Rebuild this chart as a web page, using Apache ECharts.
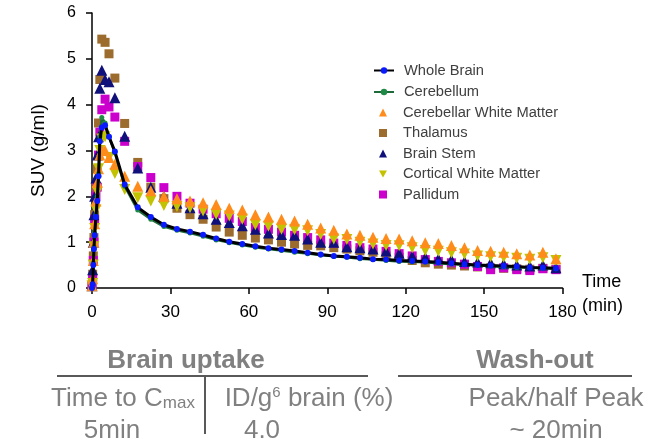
<!DOCTYPE html>
<html>
<head>
<meta charset="utf-8">
<title>SUV time-activity curves</title>
<script src="https://cdn.jsdelivr.net/npm/echarts@6/dist/echarts.min.js"></script>
<style>
  html, body { margin: 0; padding: 0; background: #fff; }
  #chart { width: 656px; height: 444px; }
</style>
</head>
<body>
<div id="chart"></div>
<script>
// frame mid-times (min)
var times = [0, 0.25, 0.5, 0.75, 1, 1.5, 2, 2.5, 3, 3.75, 5, 6.5, 8.75, 12.5, 17.5,
  22.5, 27.5, 32.5, 37.5, 42.5, 47.5, 52.5, 57.5, 62.5, 67.5, 72.5, 77.5, 82.5, 87.5, 92.5, 97.5,
  102.5, 107.5, 112.5, 117.5, 122.5, 127.5, 132.5, 137.5, 142.5, 147.5, 152.5, 157.5, 162.5, 167.5, 172.5, 177.5];

var wholeBrain = [0, 0.08, 0.5, 0.85, 1.15, 1.55, 1.9, 2.44, 3.2, 3.5, 3.55, 3.3, 2.98, 2.26, 1.76,
  1.55, 1.38, 1.29, 1.23, 1.16, 1.08, 1.01, 0.96, 0.91, 0.87, 0.84, 0.81, 0.77, 0.73, 0.70, 0.68,
  0.66, 0.63, 0.62, 0.60, 0.59, 0.58, 0.56, 0.54, 0.52, 0.50, 0.49, 0.48, 0.47, 0.45, 0.44, 0.43];

var cerebellum = [0, 0.1, 0.55, 0.9, 1.2, 1.6, 2.0, 2.5, 3.3, 3.72, 3.6, 3.3, 2.95, 2.22, 1.7,
  1.5, 1.34, 1.26, 1.2, 1.13, 1.05, 0.99, 0.94, 0.89, 0.85, 0.82, 0.78, 0.75, 0.72, 0.69, 0.67,
  0.64, 0.62, 0.6, 0.58, 0.57, 0.56, 0.54, 0.52, 0.51, 0.49, 0.48, 0.46, 0.45, 0.44, 0.43, 0.42];

var cerebWM = [0.05, 0.2, 0.6, 1.0, 1.4, 1.9, 2.3, 2.6, 2.9, 3.0, 3.0, 2.85, 2.7, 2.44, 2.22,
  2.12, 2.0, 1.95, 1.9, 1.86, 1.82, 1.74, 1.70, 1.60, 1.55, 1.50, 1.46, 1.39, 1.31, 1.26, 1.18,
  1.15, 1.11, 1.08, 1.07, 1.03, 0.99, 0.97, 0.93, 0.88, 0.82, 0.80, 0.78, 0.75, 0.72, 0.78, 0.64];

var thalamus = [0.05, 0.3, 0.7, 1.1, 1.6, 2.2, 2.6, 3.6, 4.55, 5.43, 5.36, 5.11, 4.58, 3.59, 2.74,
  2.2, 1.95, 1.74, 1.6, 1.5, 1.33, 1.22, 1.15, 1.09, 1.05, 1.0, 0.96, 0.93, 0.92, 0.88, 0.85,
  0.81, 0.78, 0.7, 0.67, 0.6, 0.55, 0.52, 0.5, 0.48, 0.46, 0.44, 0.43, 0.42, 0.41, 0.43, 0.41];

var brainStem = [0.05, 0.4, 1.0, 1.6, 2.0, 2.4, 2.9, 3.3, 4.36, 4.75, 4.55, 4.5, 4.15, 3.31, 2.62,
  2.2, 2.0, 1.85, 1.75, 1.62, 1.5, 1.43, 1.36, 1.28, 1.2, 1.17, 1.15, 1.07, 1.0, 1.0, 0.9,
  0.88, 0.85, 0.81, 0.76, 0.70, 0.67, 0.64, 0.62, 0.58, 0.57, 0.55, 0.53, 0.5, 0.48, 0.5, 0.44];

var corticalWM = [0.05, 0.1, 0.5, 0.9, 1.3, 1.7, 2.1, 2.6, 3.0, 3.25, 3.3, 2.85, 2.5, 2.15, 1.97,
  1.9, 1.8, 1.78, 1.75, 1.68, 1.61, 1.57, 1.5, 1.38, 1.35, 1.28, 1.27, 1.25, 1.17, 1.07, 1.06,
  1.0, 0.96, 0.93, 0.92, 0.88, 0.82, 0.8, 0.77, 0.74, 0.7, 0.68, 0.67, 0.65, 0.63, 0.66, 0.6];

var pallidum = [0.05, 0.2, 0.6, 1.0, 1.5, 2.0, 2.2, 2.9, 3.4, 3.89, 4.12, 3.95, 3.73, 3.2, 2.65,
  2.41, 2.19, 2.0, 1.85, 1.72, 1.62, 1.52, 1.45, 1.32, 1.28, 1.22, 1.15, 1.1, 1.05, 0.98, 0.93,
  0.88, 0.85, 0.8, 0.75, 0.7, 0.62, 0.58, 0.55, 0.52, 0.47, 0.4, 0.44, 0.4, 0.38, 0.42, 0.4];

var lineNames = ['Whole Brain', 'Cerebellum'];
var markNames = ['Cerebellar White Matter', 'Thalamus', 'Brain Stem', 'Cortical White Matter', 'Pallidum'];

var FONT = '"Liberation Sans", Arial, sans-serif';
var GREY = '#808080';
var DOWN = 'path://M0,0L10,0L5,9Z';

function pairs(vals) {
  return times.map(function (t, i) { return [t, vals[i]]; });
}

function scatter(name, vals, symbol, size, color) {
  return {
    name: name,
    type: 'scatter',
    data: pairs(vals),
    symbol: symbol,
    symbolSize: size,
    itemStyle: { color: color, opacity: 1 },
    z: 2
  };
}

var legendText = { fontFamily: FONT, fontSize: 14.7, lineHeight: 14, color: '#404040' };

var myChart = echarts.init(document.getElementById('chart'));

var option = {
  animation: false,
  backgroundColor: '#fff',
  textStyle: { fontFamily: FONT },
  grid: { left: 92, right: 93.5, top: 13, bottom: 156 },
  legend: [
    {
      data: lineNames,
      orient: 'vertical',
      left: 373,
      top: 63,
      padding: 0,
      itemWidth: 20,
      itemHeight: 8,
      itemGap: 6.5,
      textStyle: Object.assign({ padding: [0, 0, 0, 5] }, legendText)
    },
    {
      data: markNames,
      orient: 'vertical',
      left: 379,
      top: 105,
      padding: 0,
      itemWidth: 8,
      itemHeight: 8,
      itemGap: 5.5,
      textStyle: Object.assign({ padding: [0, 0, 0, 11] }, legendText)
    }
  ],
  xAxis: {
    type: 'value',
    min: 0,
    max: 180,
    interval: 30,
    axisLine: { lineStyle: { color: '#000', width: 1.5 } },
    axisTick: { length: 6, lineStyle: { color: '#000', width: 1.5 } },
    axisLabel: { fontFamily: FONT, fontSize: 17, color: '#000', margin: 16 },
    splitLine: { show: false }
  },
  yAxis: {
    type: 'value',
    min: 0,
    max: 6,
    interval: 1,
    name: 'SUV (g/ml)',
    nameLocation: 'middle',
    nameGap: 44,
    nameTextStyle: { fontFamily: FONT, fontSize: 19, color: '#000' },
    axisLine: { show: true, lineStyle: { color: '#000', width: 1.5 } },
    axisTick: { show: true, length: 6, lineStyle: { color: '#000', width: 1.5 } },
    axisLabel: { fontFamily: FONT, fontSize: 16, color: '#000', margin: 16 },
    splitLine: { show: false }
  },
  series: [
    scatter('Thalamus', thalamus, 'rect', 9, '#9c6b2e'),
    scatter('Pallidum', pallidum, 'rect', 9, '#cc00cc'),
    scatter('Brain Stem', brainStem, 'triangle', 11, '#10107a'),
    scatter('Cortical White Matter', corticalWM, DOWN, 11, '#c2c200'),
    scatter('Cerebellar White Matter', cerebWM, 'triangle', 11, '#ff8c1a'),
    {
      name: 'Cerebellum',
      type: 'line',
      data: pairs(cerebellum),
      symbol: 'circle',
      symbolSize: 5,
      showAllSymbol: true,
      lineStyle: { color: '#1d6b3a', width: 2.5 },
      itemStyle: { color: '#1f8a45' },
      z: 3
    },
    {
      name: 'Whole Brain',
      type: 'line',
      data: pairs(wholeBrain),
      symbol: 'circle',
      symbolSize: 6,
      showAllSymbol: true,
      lineStyle: { color: '#000', width: 3 },
      itemStyle: { color: '#0a1aff' },
      z: 4
    }
  ],
  graphic: [
    // x axis title, two lines at the right end of the axis
    { type: 'text', x: 582, y: 270, style: { text: 'Time\n(min)', align: 'left', verticalAlign: 'top', fill: '#000', font: '18px ' + FONT, lineHeight: 24 } },
    // table under the chart
    { type: 'text', x: 186, y: 361, style: { text: 'Brain uptake', align: 'center', verticalAlign: 'middle', fill: GREY, font: 'bold 26px ' + FONT } },
    { type: 'text', x: 535, y: 361, style: { text: 'Wash-out', align: 'center', verticalAlign: 'middle', fill: GREY, font: 'bold 26px ' + FONT } },
    { type: 'line', shape: { x1: 57, y1: 376, x2: 368, y2: 376 }, style: { stroke: '#222', lineWidth: 1.5 } },
    { type: 'line', shape: { x1: 398, y1: 376, x2: 632, y2: 376 }, style: { stroke: '#222', lineWidth: 1.5 } },
    { type: 'line', shape: { x1: 205, y1: 377, x2: 205, y2: 434 }, style: { stroke: '#222', lineWidth: 1.5 } },
    {
      type: 'text', x: 123, y: 399,
      style: {
        text: '{a|Time to C}{m|max}', align: 'center', verticalAlign: 'middle', fill: GREY,
        rich: {
          a: { fontFamily: FONT, fontSize: 26, lineHeight: 27, fill: GREY },
          m: { fontFamily: FONT, fontSize: 17, lineHeight: 18, fill: GREY, verticalAlign: 'bottom', padding: [0, 0, 1, 0] }
        }
      }
    },
    {
      type: 'text', x: 309, y: 399,
      style: {
        text: '{a|ID/g}{s|6}{a| brain (%)}', align: 'center', verticalAlign: 'middle', fill: GREY,
        rich: {
          a: { fontFamily: FONT, fontSize: 26, lineHeight: 27, fill: GREY },
          s: { fontFamily: FONT, fontSize: 15, lineHeight: 15, fill: GREY, verticalAlign: 'top' }
        }
      }
    },
    { type: 'text', x: 556, y: 399, style: { text: 'Peak/half Peak', align: 'center', verticalAlign: 'middle', fill: GREY, font: '26px ' + FONT } },
    { type: 'text', x: 112, y: 431, style: { text: '5min', align: 'center', verticalAlign: 'middle', fill: GREY, font: '26px ' + FONT } },
    { type: 'text', x: 262, y: 431, style: { text: '4.0', align: 'center', verticalAlign: 'middle', fill: GREY, font: '26px ' + FONT } },
    { type: 'text', x: 556, y: 431, style: { text: '~ 20min', align: 'center', verticalAlign: 'middle', fill: GREY, font: '26px ' + FONT } }
  ]
};

myChart.setOption(option);
window.addEventListener('resize', function () {
  myChart.resize();
});
</script>
</body>
</html>
